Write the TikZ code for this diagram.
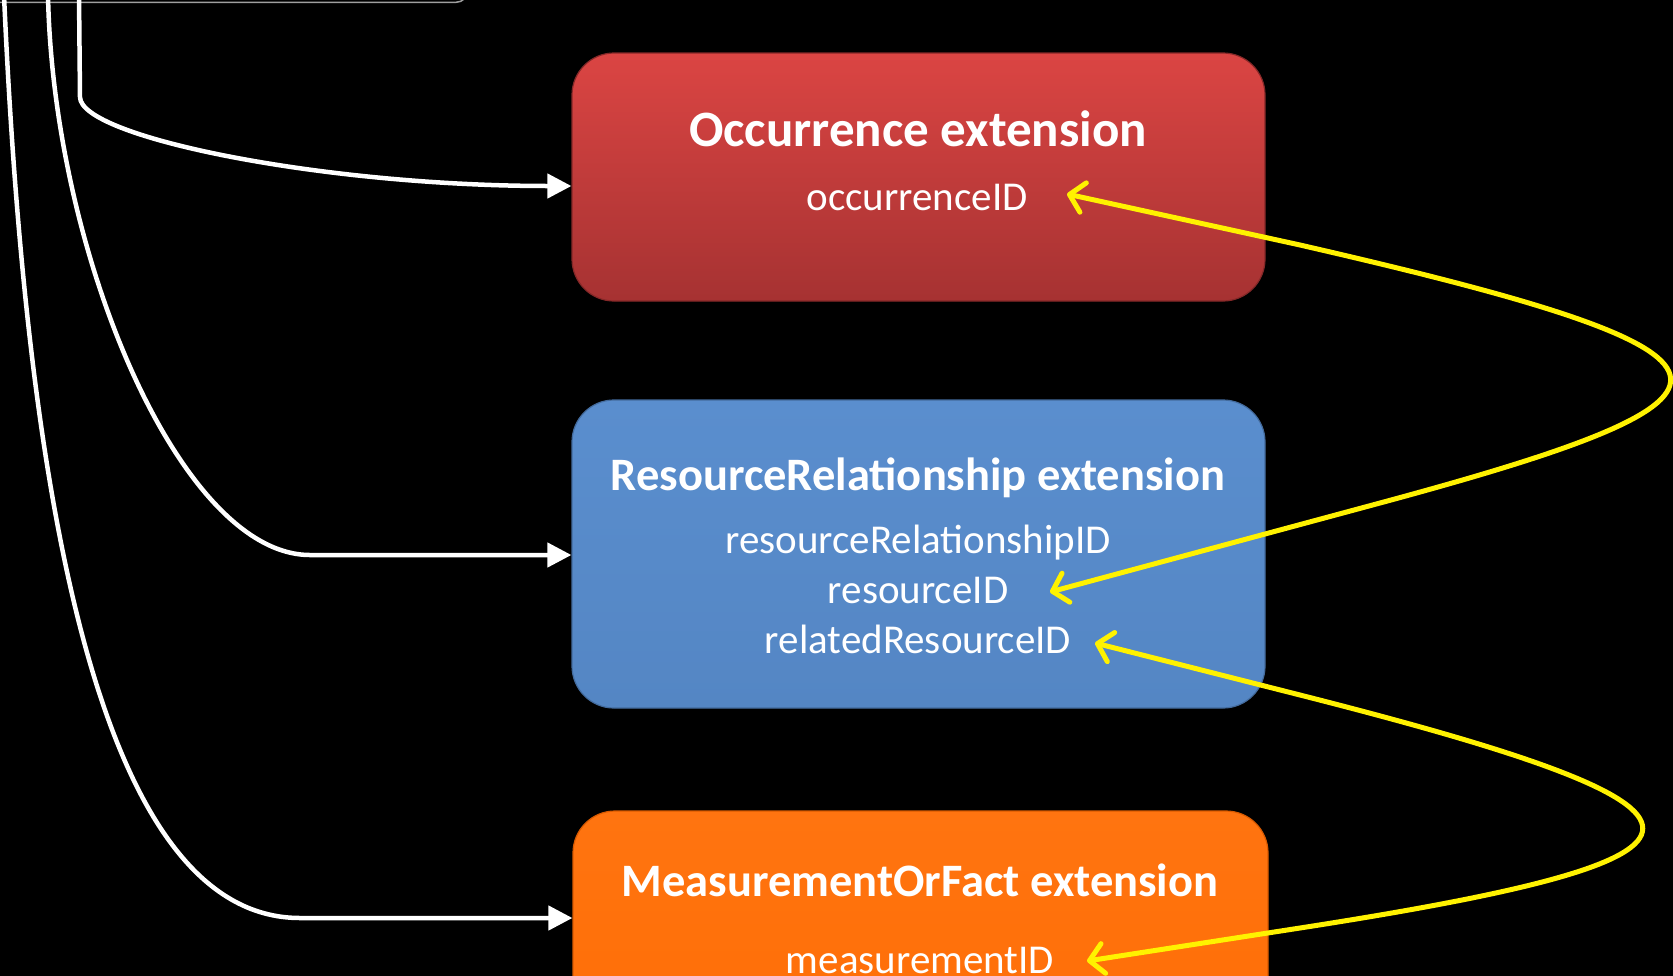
\documentclass[tikz,border=0pt]{standalone}
\usepackage{fontspec}
\setmainfont{Carlito}
\usetikzlibrary{arrows.meta,calc}
\definecolor{redtop}{RGB}{219,69,67}
\definecolor{redbot}{RGB}{166,50,50}
\definecolor{bluetop}{RGB}{90,142,206}
\definecolor{bluebot}{RGB}{84,134,196}
\definecolor{orgtop}{RGB}{255,116,16}
\definecolor{orgbot}{RGB}{255,106,0}
\definecolor{ylw}{RGB}{255,242,0}
\begin{document}
\begin{tikzpicture}[x=1pt,y=-1pt,
  boxbase/.style={rounded corners=42pt, line width=1.2pt, inner sep=0pt},
  ttl/.style={text=white, font=\fontsize{51}{61}\selectfont\bfseries, anchor=base, inner sep=0pt},
  ttls/.style={text=white, font=\fontsize{46.5}{56}\selectfont\bfseries, anchor=base, inner sep=0pt},
  fld/.style={text=white, font=\fontsize{41}{50}\selectfont, anchor=base, inner sep=0pt},
  wline/.style={draw=white, line width=4.5pt, -{Triangle[length=24pt,width=24pt]}},
  yline/.style={draw=ylw, line width=5pt, line cap=round, line join=round,
    {Straight Barb[length=14pt,width=30pt,round]}-{Straight Barb[length=14pt,width=30pt,round]}}
]
\useasboundingbox (0,0) rectangle (1673,975);
\clip (0,0) rectangle (1673,975);
\fill[black] (-5,-5) rectangle (1680,980);

% box above (cut off)
\draw[gray!75, line width=1.5pt, rounded corners=12pt] (-20,2.3) -- (468,2.3) -- (468,-60);

% boxes
\node[boxbase, draw=redbot!80!black, top color=redtop, bottom color=redbot,
  minimum width=693pt, minimum height=248pt] (occ) at (918.5,177) {};
\node[boxbase, draw=bluebot!80!black, top color=bluetop, bottom color=bluebot,
  minimum width=693pt, minimum height=308pt] (rr) at (918.5,554) {};
\node[boxbase, draw=orgbot!85!black, top color=orgtop, bottom color=orgbot,
  minimum width=695pt, minimum height=400pt] (mof) at (920.5,1011) {};

% texts
\node[ttl] (occT) at (918,146) {Occurrence extension};
\node[fld] (occF) at (917,210) {occurrenceID};
\node[ttls] (rrT) at (918,490) {ResourceRelationship extension};
\node[fld] (rrF1) at (918,553) {resourceRelationshipID};
\node[fld] (rrF2) at (918,603) {resourceID};
\node[fld] (rrF3) at (918,653) {relatedResourceID};
\node[ttls] (mofT) at (920,896) {MeasurementOrFact extension};
\node[fld] (mofF) at (920,973) {measurementID};

% free ends and levels
\coordinate (sA) at (4,-5);
\coordinate (sB) at (48,-5);
\coordinate (sC) at (79,-5);
\coordinate (yA) at (0,918);
\coordinate (yB) at (0,555);
\coordinate (yC) at (0,186);

% white connectors
\draw[wline] (sA) .. controls (26.5,503) and (100,918) .. (300,918) -- (mof.west |- yA);
\draw[wline] (sB) .. controls (53,253) and (180,555) .. (310,555) -- (rr.west |- yB);
\draw[wline] (sC) -- (80,97) .. controls (80,137) and (322,186) .. (occ.west |- yC);

% yellow connectors
\coordinate (t1) at (1067,194);
\coordinate (t2) at (1050,592);
\coordinate (t3) at (1095,643);
\coordinate (t4) at (1087,961);
\draw[yline] (t1) -- (1300,245) .. controls (1780,355) and (1780,395) .. (1380,503) -- (t2);
\draw[yline] (t3) -- (1300,695) .. controls (1757,811) and (1757,857) .. (1300,928) -- (t4);
\end{tikzpicture}
\end{document}
